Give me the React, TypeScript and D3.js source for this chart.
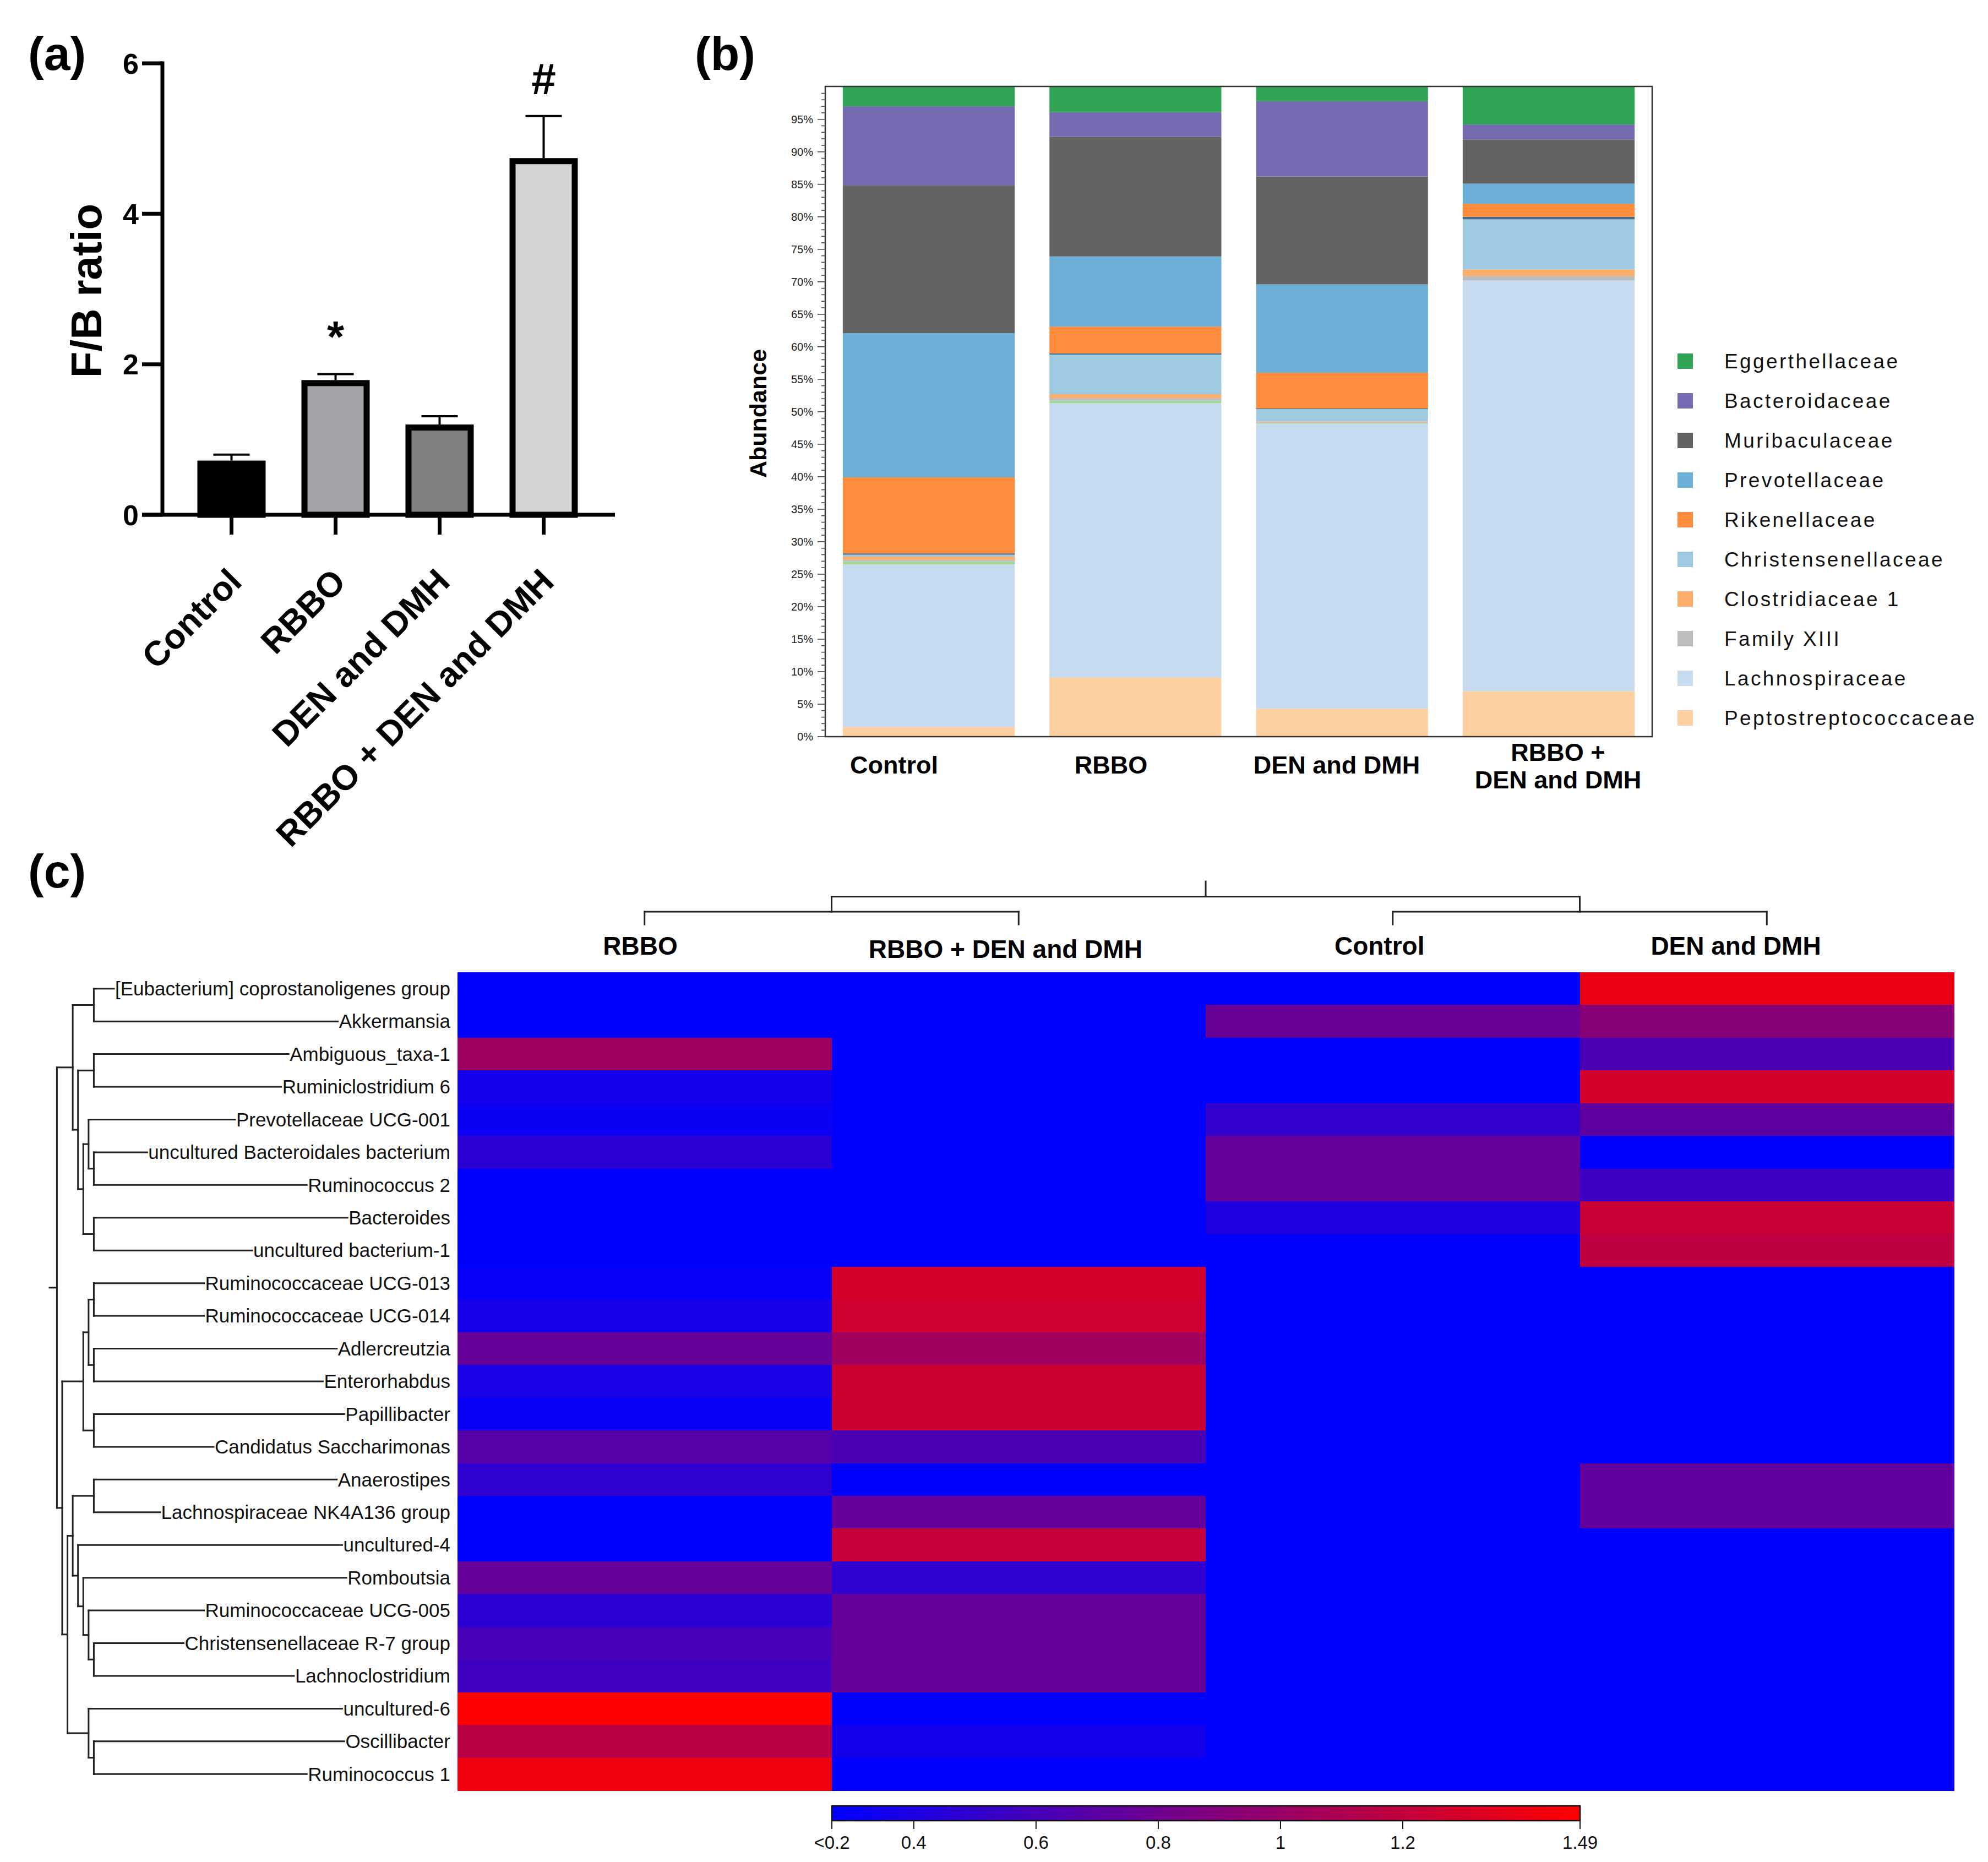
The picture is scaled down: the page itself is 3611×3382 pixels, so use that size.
import * as d3 from "d3";
import { useEffect } from "react";

const W = 3611;
const H = 3382;
const FONT = "'Liberation Sans', Arial, Helvetica, sans-serif";
const NARROW = "'Liberation Sans Narrow', 'Arial Narrow', 'Liberation Sans', Arial, sans-serif";

// ---- (a) F/B ratio ----
const fbGroups = ["Control", "RBBO", "DEN and DMH", "RBBO + DEN and DMH"];
const fbRatio = [0.72, 1.79, 1.2, 4.74];
const fbError = [0.08, 0.08, 0.11, 0.56];
const fbFill = ["#000000", "#a3a3a7", "#808080", "#d4d4d4"];
const fbMarks = ["", "*", "", "#"];
const fbTicks = [0, 2, 4, 6];

// ---- (b) family abundance, bottom to top ----
const abGroups = ["Control", "RBBO", "DEN and DMH", "RBBO + DEN and DMH"];
const abLabelLines = [["Control"], ["RBBO"], ["DEN and DMH"], ["RBBO +", "DEN and DMH"]];
const peptostreptococcaceae = [1.5, 9.1, 4.3, 7.0];
const lachnospiraceae = [25.0, 42.2, 43.9, 63.2];
const otherLowAbundance = [0.5, 0.4, 0.1, 0.0];
const familyXIII = [0.2, 0.4, 0.1, 0.7];
const clostridiaceae1 = [0.5, 0.6, 0.1, 1.0];
const christensenellaceae = [0.3, 6.1, 1.9, 7.7];
const otherTrace = [0.2, 0.2, 0.1, 0.4];
const rikenellaceae = [11.7, 4.1, 5.5, 2.0];
const prevotellaceae = [22.2, 10.8, 13.6, 3.1];
const muribaculaceae = [22.7, 18.4, 16.6, 6.8];
const bacteroidaceae = [12.2, 3.8, 11.6, 2.3];
const eggerthellaceae = [3.0, 3.9, 2.2, 5.8];

const stackKeys = [
  "Peptostreptococcaceae", "Lachnospiraceae", "other", "Family XIII", "Clostridiaceae 1",
  "Christensenellaceae", "trace", "Rikenellaceae", "Prevotellaceae", "Muribaculaceae",
  "Bacteroidaceae", "Eggerthellaceae",
];
const stackValues = [
  peptostreptococcaceae, lachnospiraceae, otherLowAbundance, familyXIII, clostridiaceae1,
  christensenellaceae, otherTrace, rikenellaceae, prevotellaceae, muribaculaceae,
  bacteroidaceae, eggerthellaceae,
];
const stackColors = [
  "#fdd0a2", "#c6dbef", "#a1d99b", "#bdbdbd", "#fdae6b",
  "#9ecae1", "#4a6a8a", "#fd8d3c", "#6baed6", "#636363",
  "#756bb1", "#31a354",
];
const legendKeys = [
  "Eggerthellaceae", "Bacteroidaceae", "Muribaculaceae", "Prevotellaceae", "Rikenellaceae",
  "Christensenellaceae", "Clostridiaceae 1", "Family XIII", "Lachnospiraceae", "Peptostreptococcaceae",
];

// ---- (c) heatmap ----
const hmRows = [
  "[Eubacterium] coprostanoligenes group", "Akkermansia", "Ambiguous_taxa-1", "Ruminiclostridium 6",
  "Prevotellaceae UCG-001", "uncultured Bacteroidales bacterium", "Ruminococcus 2", "Bacteroides",
  "uncultured bacterium-1", "Ruminococcaceae UCG-013", "Ruminococcaceae UCG-014", "Adlercreutzia",
  "Enterorhabdus", "Papillibacter", "Candidatus Saccharimonas", "Anaerostipes",
  "Lachnospiraceae NK4A136 group", "uncultured-4", "Romboutsia", "Ruminococcaceae UCG-005",
  "Christensenellaceae R-7 group", "Lachnoclostridium", "uncultured-6", "Oscillibacter", "Ruminococcus 1",
];
const hmGroups = ["RBBO", "RBBO + DEN and DMH", "Control", "DEN and DMH"];
const hmRBBO = [0.2, 0.2, 1.03, 0.36, 0.32, 0.47, 0.2, 0.2, 0.2, 0.3, 0.37, 0.76, 0.38, 0.31, 0.68, 0.49, 0.2, 0.2, 0.76, 0.47, 0.61, 0.57, 1.49, 1.16, 1.43];
const hmRBBODEN = [0.2, 0.2, 0.2, 0.2, 0.2, 0.2, 0.2, 0.2, 0.2, 1.28, 1.26, 1.04, 1.25, 1.25, 0.63, 0.2, 0.76, 1.21, 0.49, 0.76, 0.76, 0.76, 0.2, 0.36, 0.2];
const hmControl = [0.2, 0.77, 0.2, 0.2, 0.51, 0.76, 0.76, 0.42, 0.2, 0.2, 0.2, 0.2, 0.2, 0.2, 0.2, 0.2, 0.2, 0.2, 0.2, 0.2, 0.2, 0.2, 0.2, 0.2, 0.2];
const hmDEN = [1.4, 0.92, 0.63, 1.28, 0.72, 0.2, 0.56, 1.23, 1.18, 0.2, 0.2, 0.2, 0.2, 0.2, 0.2, 0.73, 0.73, 0.2, 0.2, 0.2, 0.2, 0.2, 0.2, 0.2, 0.2];
const hmValues = [hmRBBO, hmRBBODEN, hmControl, hmDEN];

// hclust-style merges: negative = leaf (1-based), positive = earlier merge
const rowMerges: [number, number, number][] = [
  [-1, -2, 1], [-6, -7, 1], [-5, 2, 2], [-8, -9, 1], [3, 4, 3], [-3, -4, 1], [6, 5, 4], [1, 7, 5],
  [-10, -11, 1], [-12, -13, 1], [9, 10, 2], [-14, -15, 1], [11, 12, 3], [-16, -17, 1],
  [-21, -22, 1], [-20, 15, 2], [-19, 16, 3], [-18, 17, 4], [14, 18, 5], [-24, -25, 1],
  [-23, 20, 2], [19, 21, 6], [13, 22, 7], [8, 23, 8],
];
const colMerges: [number, number, number][] = [[-1, -2, 1], [-3, -4, 1], [1, 2, 2.2]];

const cbMin = 0.266;
const cbMax = 1.49;
const cbTicks = [0.4, 0.6, 0.8, 1, 1.2];
const cbMinLabel = "<0.2";

let measureCtx: CanvasRenderingContext2D | null = null;
function textWidth(s: string, font: string) {
  if (!measureCtx) measureCtx = document.createElement("canvas").getContext("2d");
  if (!measureCtx) return s.length * 17;
  measureCtx.font = font;
  return measureCtx.measureText(s).width;
}

type Seg = { x1: number; y1: number; x2: number; y2: number };

// lays out a dendrogram along one axis; leafPos gives the leaf coordinate,
// leafEnd gives where the leaf branch stops in height direction
function dendroSegments(
  merges: [number, number, number][],
  leafPos: (i: number) => number,
  leafEnd: (i: number) => number,
  hPos: (h: number) => number,
  horizontal: boolean,
) {
  const nodes: { p: number; h: number }[] = [];
  const segs: Seg[] = [];
  const mk = (a: number, b: number, c: number, d: number): Seg =>
    horizontal ? { x1: a, y1: b, x2: c, y2: d } : { x1: b, y1: a, x2: d, y2: c };
  merges.forEach(([a, b, h]) => {
    const child = (c: number) =>
      c < 0 ? { p: leafPos(-c - 1), end: leafEnd(-c - 1) } : { p: nodes[c - 1].p, end: hPos(nodes[c - 1].h) };
    const ca = child(a);
    const cb = child(b);
    const hp = hPos(h);
    segs.push(mk(hp, ca.p, hp, cb.p));
    segs.push(mk(hp, ca.p, ca.end, ca.p));
    segs.push(mk(hp, cb.p, cb.end, cb.p));
    nodes.push({ p: (ca.p + cb.p) / 2, h });
  });
  return { segs, root: nodes[nodes.length - 1] };
}

export default function App() {
  useEffect(() => {
    document.body.style.margin = "0";
  }, []);

  // ---------- panel (a) ----------
  const aY = d3.scaleLinear().domain([0, 6]).range([935, 115]);
  const aX = d3.scaleBand().domain(fbGroups).range([326, 1082]).paddingInner(0.344).paddingOuter(0.172);
  const bw = aX.bandwidth();
  const sw = 11;

  // ---------- panel (b) ----------
  const bX = d3.scaleBand().domain(abGroups).range([1499, 3001]).paddingInner(0.168).paddingOuter(0.085);
  const bY = d3.scaleLinear().domain([0, 100]).range([1338, 157.7]);
  const bLabelX = d3.scalePoint().domain(abGroups).range([1624, 2830]);
  const rows = abGroups.map((g, i) => {
    const r: Record<string, number | string> = { group: g };
    stackKeys.forEach((k, j) => (r[k] = stackValues[j][i]));
    return r;
  });
  const stacked = d3.stack<Record<string, number | string>>().keys(stackKeys)(rows as any);
  const legendY = d3.scalePoint().domain(legendKeys).range([656, 1304]);
  const colorOf = (k: string) => stackColors[stackKeys.indexOf(k)];

  // ---------- panel (c) ----------
  const cX = d3.scaleBand().domain(hmGroups).range([831, 3549]);
  const cY = d3.scaleBand().domain(hmRows).range([1766, 3252]);
  const heat = d3
    .scaleLinear<string>()
    .domain([cbMin, cbMax])
    .range(["#0000ff", "#ff0000"])
    .interpolate(d3.interpolateRgb)
    .clamp(true);
  const rowFont = `35px ${FONT}`;
  const labelRight = 818;
  const dX = d3.scaleLinear().domain([0, 9.4]).range([180, 90]);
  const rowDendro = dendroSegments(
    rowMerges,
    (i) => cY(hmRows[i])! + cY.bandwidth() / 2,
    (i) => labelRight - textWidth(hmRows[i], rowFont) - 2,
    dX,
    true,
  );
  const tY = d3.scaleLinear().domain([0, 3.4]).range([1679, 1601]);
  const colDendro = dendroSegments(
    colMerges,
    (i) => cX(hmGroups[i])! + cX.bandwidth() / 2,
    () => tY(0),
    tY,
    false,
  );
  const hdrX = d3.scalePoint().domain(hmGroups).range([1163, 3153]);
  const cb = d3.scaleLinear().domain([cbMin, cbMax]).range([1511, 2870]);
  const cbSlices = d3.range(0, 240).map((i) => cbMin + ((cbMax - cbMin) * i) / 240);
  const cbStep = (cb(cbMax) - cb(cbMin)) / 240;

  return (
    <div style={{ position: "absolute", left: 0, top: 0 }}>
      <svg width={W} height={H} style={{ display: "block", background: "#fff" }} fontFamily={FONT}>
        <rect width={W} height={H} fill="#fff" />

        {/* ===== (a) ===== */}
        <text x={51} y={127} fontSize={86} fontWeight="bold">(a)</text>
        {fbGroups.map((g, i) => {
          const x = aX(g)!;
          const y = aY(fbRatio[i]);
          const cx = x + bw / 2;
          const top = aY(fbRatio[i] + fbError[i]);
          return (
            <g key={g}>
              <line x1={cx} x2={cx} y1={y} y2={top} stroke="#000" strokeWidth={4} />
              <line x1={cx - 33} x2={cx + 33} y1={top} y2={top} stroke="#000" strokeWidth={4} />
              <rect
                x={x + sw / 2}
                y={y + sw / 2}
                width={bw - sw}
                height={aY(0) - y - sw / 2}
                fill={fbFill[i]}
                stroke="#000"
                strokeWidth={sw}
              />
              {fbMarks[i] && (
                <text x={cx} y={top - 40} textAnchor="middle" fontSize={80} fontWeight="bold">
                  {fbMarks[i]}
                </text>
              )}
              <line x1={cx} x2={cx} y1={aY(0)} y2={aY(0) + 36} stroke="#000" strokeWidth={7} />
              <text
                transform={`translate(${cx + 22},${1060}) rotate(-45)`}
                textAnchor="end"
                fontSize={63}
                fontWeight="bold"
              >
                {g}
              </text>
            </g>
          );
        })}
        <line x1={295} x2={295} y1={aY(6) - 3.5} y2={aY(0)} stroke="#000" strokeWidth={7} />
        <line x1={258} x2={1117} y1={aY(0)} y2={aY(0)} stroke="#000" strokeWidth={7} />
        {fbTicks.map((t) => (
          <g key={t}>
            <line x1={258} x2={295} y1={aY(t)} y2={aY(t)} stroke="#000" strokeWidth={7} />
            <text x={252} y={aY(t)} dy="0.36em" textAnchor="end" fontSize={52} fontWeight="bold">
              {t}
            </text>
          </g>
        ))}
        <text transform="translate(184,528) rotate(-90)" textAnchor="middle" fontSize={78} fontWeight="bold">
          F/B ratio
        </text>

        {/* ===== (b) ===== */}
        <text x={1262} y={127} fontSize={86} fontWeight="bold">(b)</text>
        {stacked.map((s) => (
          <g key={s.key} fill={colorOf(s.key)}>
            {s.map((d, i) => (
              <rect
                key={i}
                x={bX(abGroups[i])!}
                width={bX.bandwidth()}
                y={bY(d[1])}
                height={Math.max(0, bY(d[0]) - bY(d[1]))}
              />
            ))}
          </g>
        ))}
        <rect x={1499} y={157} width={1502} height={1181} fill="none" stroke="#333" strokeWidth={2.5} />
        {d3.range(0, 100, 1).map((t) => (
          <line
            key={t}
            x1={1499 - (t % 5 === 0 ? 14 : 7)}
            x2={1499}
            y1={bY(t)}
            y2={bY(t)}
            stroke="#444"
            strokeWidth={1.6}
          />
        ))}
        {d3.range(0, 100, 5).map((t) => (
          <text key={t} x={1477} y={bY(t)} dy="0.35em" textAnchor="end" fontSize={20} fontFamily={NARROW} fill="#222">
            {t}%
          </text>
        ))}
        <text transform="translate(1392,751) rotate(-90)" textAnchor="middle" fontSize={43} fontWeight="bold">
          Abundance
        </text>
        {abGroups.map((g, i) => {
          const lines = abLabelLines[i];
          const y0 = lines.length === 1 ? 1405 : 1382;
          return (
            <text key={g} x={bLabelX(g)!} y={y0} textAnchor="middle" fontSize={45} fontWeight="bold">
              {lines.map((l, j) => (
                <tspan key={j} x={bLabelX(g)! - (i === 1 ? 8 : 0)} y={y0 + j * 50}>
                  {l}
                </tspan>
              ))}
            </text>
          );
        })}
        {legendKeys.map((k) => (
          <g key={k}>
            <rect x={3047} y={legendY(k)! - 14} width={28} height={28} fill={colorOf(k)} />
            <text x={3132} y={legendY(k)!} dy="0.36em" fontSize={37} letterSpacing={3.4} fill="#111">
              {k}
            </text>
          </g>
        ))}

        {/* ===== (c) ===== */}
        <text x={51} y={1612} fontSize={86} fontWeight="bold">(c)</text>
        <g shapeRendering="crispEdges">
          {hmGroups.map((g, j) =>
            hmRows.map((r, i) => (
              <rect
                key={`${g}-${r}`}
                x={cX(g)!}
                y={cY(r)!}
                width={cX.bandwidth() + 0.6}
                height={cY.bandwidth() + 0.6}
                fill={heat(hmValues[j][i])}
              />
            )),
          )}
        </g>
        {hmRows.map((r) => (
          <text key={r} x={labelRight} y={cY(r)! + cY.bandwidth() / 2} dy="0.35em" textAnchor="end" fontSize={35} fill="#111">
            {r}
          </text>
        ))}
        <g stroke="#222" strokeWidth={3} fill="none" strokeLinecap="square">
          {rowDendro.segs.map((s, i) => (
            <line key={i} x1={s.x1} y1={s.y1} x2={s.x2} y2={s.y2} />
          ))}
          <line x1={dX(rowDendro.root.h)} x2={dX(9.4)} y1={rowDendro.root.p} y2={rowDendro.root.p} />
        </g>
        <g stroke="#222" strokeWidth={3} fill="none" strokeLinecap="square">
          {colDendro.segs.map((s, i) => (
            <line key={i} x1={s.x1} y1={s.y1} x2={s.x2} y2={s.y2} />
          ))}
          <line x1={colDendro.root.p} x2={colDendro.root.p} y1={tY(colDendro.root.h)} y2={tY(3.4)} />
        </g>
        {hmGroups.map((g, i) => (
          <text
            key={g}
            x={hdrX(g)! + (i === 2 ? 16 : 0)}
            y={i === 1 ? 1740 : 1734}
            textAnchor="middle"
            fontSize={46}
            fontWeight="bold"
          >
            {g}
          </text>
        ))}
        <g shapeRendering="crispEdges">
          {cbSlices.map((v, i) => (
            <rect key={i} x={cb(v)} y={3280} width={cbStep + 0.8} height={27} fill={heat(v + (cbMax - cbMin) / 480)} />
          ))}
        </g>
        <rect x={cb(cbMin)} y={3280} width={cb(cbMax) - cb(cbMin)} height={27} fill="none" stroke="#111" strokeWidth={2.5} />
        {[cbMin, ...cbTicks, cbMax].map((t, i, arr) => (
          <g key={t}>
            <line x1={cb(t)} x2={cb(t)} y1={3307} y2={3322} stroke="#111" strokeWidth={2} />
            <text x={cb(t)} y={3358} textAnchor="middle" fontSize={33} fontFamily={NARROW} fill="#111">
              {i === 0 ? cbMinLabel : i === arr.length - 1 ? String(cbMax) : String(t)}
            </text>
          </g>
        ))}
      </svg>
    </div>
  );
}
